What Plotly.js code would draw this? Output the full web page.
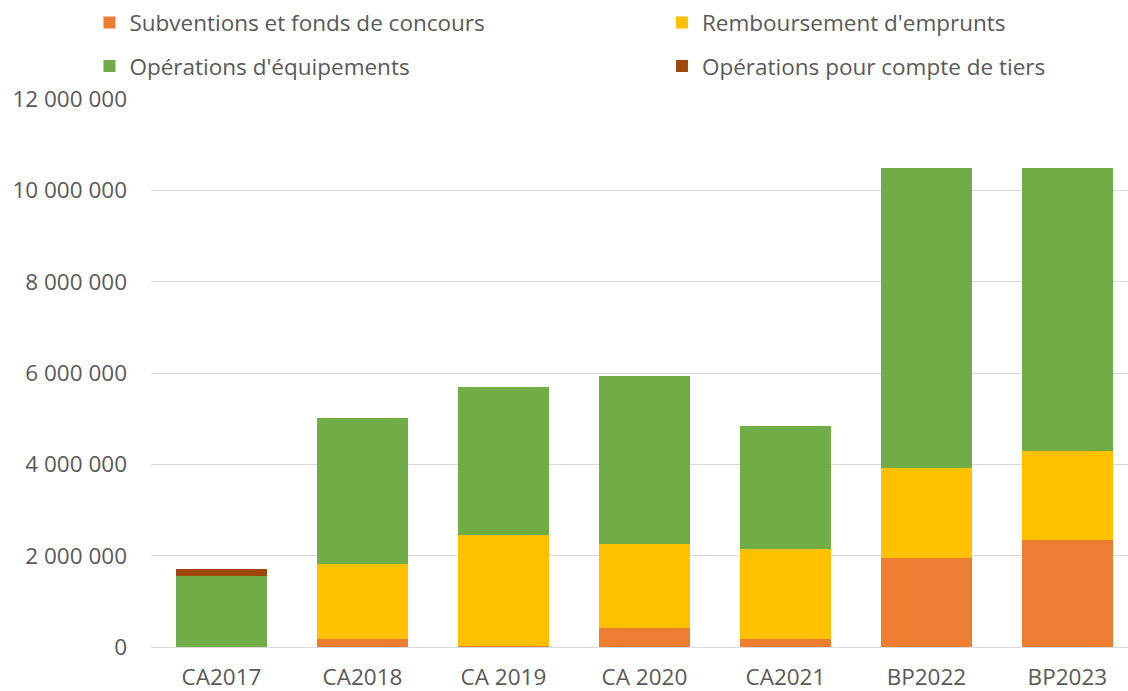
<!DOCTYPE html>
<html>
<head>
<meta charset="utf-8">
<script src="https://cdn.plot.ly/plotly-3.0.1.min.js"></script>
<style>
  html, body { margin: 0; padding: 0; background: #fff; }
  #chart { width: 1128px; height: 691px; }
</style>
</head>
<body>
<div id="chart"></div>
<script>
// Investissement - dépenses par chapitre
const categories = ['CA2017', 'CA2018', 'CA 2019', 'CA 2020', 'CA2021', 'BP2022', 'BP2023'];

const subventions   = [0, 170000, 30000, 420000, 175000, 1940000, 2340000];
const remboursement = [0, 1650000, 2420000, 1835000, 1965000, 1980000, 1950000];
const equipements   = [1545000, 3190000, 3240000, 3675000, 2700000, 6570000, 6200000];
const compteTiers   = [155000, 0, 0, 0, 0, 0, 0];

const yTicks = [0, 2000000, 4000000, 6000000, 8000000, 10000000, 12000000];

const fontFamily = '"Open Sans", "Noto Sans", sans-serif';
const textColor = '#595959';
const fontSize = 22.5;

function barTrace(name, values, color, legend) {
    return {
        type: 'bar',
        name,
        x: categories,
        y: values,
        marker: { color, line: { width: 0 } },
        legend,
        showlegend: true,
        hoverinfo: 'skip'
    };
}

// one legend box per entry, laid out as Excel's 2x2 legend
const traces = [
    barTrace('Subventions et fonds de concours', subventions, '#ED7D31', 'legend'),
    barTrace("Remboursement d'emprunts", remboursement, '#FFC000', 'legend2'),
    barTrace("Opérations d'équipements", equipements, '#70AD47', 'legend3'),
    barTrace('Opérations pour compte de tiers', compteTiers, '#9E480E', 'legend4')
];

const legendCommon = {
    visible: true,
    orientation: 'h',
    xanchor: 'left',
    yanchor: 'middle',
    font: { family: fontFamily, size: fontSize, color: textColor },
    bgcolor: 'rgba(0,0,0,0)',
    itemclick: false,
    itemdoubleclick: false
};

const col1 = -0.063, col2 = 0.523;
const row1 = 1.139, row2 = 1.0595;

const layout = {
    width: 1128,
    height: 691,
    paper_bgcolor: '#fff',
    plot_bgcolor: '#fff',
    showlegend: true,
    separators: ', ',
    barmode: 'stack',
    bargap: 0.35,
    margin: { l: 151, r: 0, t: 99, b: 44 },
    font: { family: fontFamily, color: textColor },
    legend:  { ...legendCommon, x: col1, y: row1 },
    legend2: { ...legendCommon, x: col2, y: row1 },
    legend3: { ...legendCommon, x: col1, y: row2 },
    legend4: { ...legendCommon, x: col2, y: row2 },
    xaxis: {
        type: 'category',
        range: [-0.5, 6.43],   // the source plot area runs slightly past the right edge
        showgrid: false,
        zeroline: false,
        showline: false,
        ticks: '',
        ticklabelstandoff: 14,
        tickfont: { family: fontFamily, size: fontSize, color: textColor }
    },
    yaxis: {
        range: [0, 12000000],
        tickvals: yTicks,
        tickformat: ',d',
        showgrid: true,
        gridcolor: '#d9d9d9',
        gridwidth: 1,
        zeroline: true,
        zerolinecolor: '#d9d9d9',
        zerolinewidth: 1,
        showline: false,
        ticks: '',
        ticklabelstandoff: 23,
        tickfont: { family: fontFamily, size: fontSize, color: textColor }
    }
};

Plotly.newPlot('chart', traces, layout, { displayModeBar: false, staticPlot: true });
</script>
</body>
</html>
